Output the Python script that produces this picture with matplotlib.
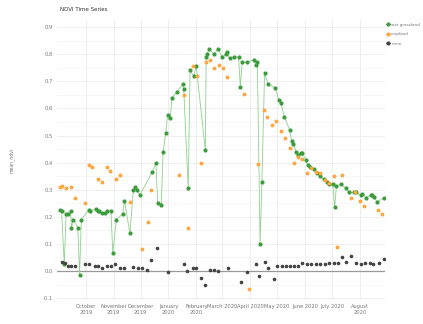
import numpy as np
import pandas as pd
import matplotlib
matplotlib.use('Agg')
import matplotlib.pyplot as plt
from matplotlib.lines import Line2D

# wet grassland (green, points joined by a line)
grass_dates = ['2019-09-02', '2019-09-04', '2019-09-07', '2019-09-09', '2019-09-11', '2019-09-14',
               '2019-09-15', '2019-09-17', '2019-09-22', '2019-09-24', '2019-09-26', '2019-10-04',
               '2019-10-06', '2019-10-12', '2019-10-14', '2019-10-16', '2019-10-19', '2019-10-22',
               '2019-10-24', '2019-10-29', '2019-10-31', '2019-11-04', '2019-11-11', '2019-11-13',
               '2019-11-19', '2019-11-23', '2019-11-25', '2019-11-27', '2019-11-30', '2019-12-14',
               '2019-12-18', '2019-12-20', '2019-12-24', '2019-12-26', '2019-12-29', '2019-12-31',
               '2020-01-03', '2020-01-05', '2020-01-10', '2020-01-17', '2020-01-18', '2020-01-23',
               '2020-01-25', '2020-01-29', '2020-02-01', '2020-02-11', '2020-02-12', '2020-02-13',
               '2020-02-15', '2020-02-21', '2020-02-25', '2020-03-01', '2020-03-05', '2020-03-06',
               '2020-03-09', '2020-03-14', '2020-03-19', '2020-03-21', '2020-03-23', '2020-03-28',
               '2020-04-05', '2020-04-07', '2020-04-09', '2020-04-12', '2020-04-14', '2020-04-17',
               '2020-04-21', '2020-04-29', '2020-05-03', '2020-05-05', '2020-05-09', '2020-05-15',
               '2020-05-17', '2020-05-19', '2020-05-22', '2020-05-24', '2020-05-27', '2020-05-29',
               '2020-06-02', '2020-06-04', '2020-06-07', '2020-06-11', '2020-06-14', '2020-06-18',
               '2020-06-22', '2020-06-25', '2020-06-28', '2020-07-02', '2020-07-04', '2020-07-06',
               '2020-07-11', '2020-07-17', '2020-07-20', '2020-07-26', '2020-07-28', '2020-08-02',
               '2020-08-04', '2020-08-08', '2020-08-13', '2020-08-15', '2020-08-17', '2020-08-20',
               '2020-08-28']
grass_ndvi = [0.225, 0.22, 0.025, 0.21, 0.21, 0.22,
              0.16, 0.19, 0.16, -0.015, 0.19, 0.225,
              0.22, 0.23, 0.22, 0.22, 0.215, 0.215,
              0.22, 0.22, 0.065, 0.19, 0.21, 0.26,
              0.14, 0.30, 0.31, 0.30, 0.28, 0.365,
              0.40, 0.25, 0.245, 0.44, 0.51, 0.575,
              0.565, 0.64, 0.66, 0.69, 0.67, 0.305,
              0.74, 0.72, 0.755, 0.445, 0.79, 0.80,
              0.82, 0.80, 0.82, 0.79, 0.80, 0.81,
              0.785, 0.79, 0.79, 0.68, 0.77, 0.77,
              0.78, 0.76, 0.77, 0.10, 0.33, 0.73,
              0.69, 0.675, 0.63, 0.62, 0.57, 0.52,
              0.48, 0.47, 0.44, 0.43, 0.435, 0.435,
              0.41, 0.39, 0.385, 0.375, 0.36, 0.35,
              0.34, 0.33, 0.32, 0.32, 0.235, 0.315,
              0.32, 0.305, 0.29, 0.29, 0.29, 0.28,
              0.285, 0.27, 0.28, 0.28, 0.275, 0.255,
              0.27]

# cropland (orange points)
crop_dates = ['2019-09-02', '2019-09-05', '2019-09-09', '2019-09-14', '2019-09-19', '2019-09-30',
              '2019-10-04', '2019-10-08', '2019-10-14', '2019-10-19', '2019-10-24', '2019-10-28',
              '2019-11-04', '2019-11-08', '2019-11-19', '2019-12-02', '2019-12-09', '2019-12-13',
              '2020-01-13', '2020-01-18', '2020-01-23', '2020-01-28', '2020-02-02', '2020-02-06',
              '2020-02-12', '2020-02-16', '2020-02-21', '2020-02-26', '2020-03-02', '2020-03-06',
              '2020-03-25', '2020-03-31', '2020-04-10', '2020-04-16', '2020-04-20', '2020-04-25',
              '2020-04-30', '2020-05-05', '2020-05-10', '2020-05-15', '2020-05-20', '2020-05-24',
              '2020-05-29', '2020-06-03', '2020-06-08', '2020-06-13', '2020-06-18', '2020-06-23',
              '2020-06-28', '2020-07-03', '2020-07-07', '2020-07-12', '2020-07-22', '2020-07-27',
              '2020-08-01', '2020-08-06', '2020-08-21', '2020-08-26']
crop_ndvi = [0.31, 0.315, 0.305, 0.31, 0.27, 0.25,
             0.39, 0.385, 0.34, 0.33, 0.385, 0.37,
             0.34, 0.355, 0.255, 0.08, 0.18, 0.30,
             0.355, 0.65, 0.16, 0.755, 0.72, 0.40,
             0.77, 0.78, 0.75, 0.76, 0.75, 0.715,
             0.655, -0.065, 0.395, 0.595, 0.57, 0.54,
             0.555, 0.515, 0.49, 0.455, 0.40, 0.42,
             0.415, 0.36, 0.38, 0.365, 0.36, 0.335,
             0.325, 0.35, 0.09, 0.355, 0.27, 0.29,
             0.26, 0.24, 0.225, 0.21]

# mine (dark points near zero)
mine_dates = ['2019-09-05', '2019-09-08', '2019-09-11', '2019-09-14', '2019-09-19', '2019-09-30',
              '2019-10-04', '2019-10-11', '2019-10-14', '2019-10-19', '2019-10-24', '2019-10-29',
              '2019-11-03', '2019-11-08', '2019-11-13', '2019-11-23', '2019-11-28', '2019-12-03',
              '2019-12-08', '2019-12-13', '2019-12-19', '2020-01-01', '2020-01-18', '2020-01-22',
              '2020-01-28', '2020-02-01', '2020-02-06', '2020-02-11', '2020-02-16', '2020-02-21',
              '2020-02-25', '2020-03-07', '2020-03-22', '2020-03-28', '2020-04-07', '2020-04-11',
              '2020-04-17', '2020-04-21', '2020-04-27', '2020-05-01', '2020-05-06', '2020-05-11',
              '2020-05-15', '2020-05-20', '2020-05-24', '2020-05-29', '2020-06-03', '2020-06-08',
              '2020-06-13', '2020-06-18', '2020-06-23', '2020-06-28', '2020-07-03', '2020-07-08',
              '2020-07-12', '2020-07-17', '2020-07-22', '2020-07-28', '2020-08-02', '2020-08-07',
              '2020-08-12', '2020-08-16', '2020-08-22', '2020-08-28']
mine_ndvi = [0.035, 0.03, 0.02, 0.02, 0.02, 0.025,
             0.025, 0.02, 0.02, 0.01, 0.02, 0.02,
             0.025, 0.01, 0.01, 0.015, 0.01, 0.01,
             0.005, 0.04, 0.085, -0.005, 0.025, 0.0,
             0.01, 0.01, -0.025, -0.05, 0.005, 0.005,
             0.0, 0.01, -0.04, -0.005, 0.025, -0.02,
             0.035, 0.01, -0.03, 0.02, 0.02, 0.02,
             0.02, 0.02, 0.02, 0.03, 0.025, 0.025,
             0.025, 0.025, 0.025, 0.03, 0.03, 0.03,
             0.05, 0.035, 0.055, 0.03, 0.025, 0.03,
             0.03, 0.025, 0.03, 0.045]

month_ticks = ['2019-10-01', '2019-11-01', '2019-12-01', '2020-01-01', '2020-02-01', '2020-03-01',
               '2020-04-01', '2020-05-01', '2020-06-01', '2020-07-01', '2020-08-01']
month_labels = ['October\n2019', 'November\n2019', 'December\n2019', 'January\n2020', 'February\n2020',
                'March 2020', 'April 2020', 'May 2020', 'June 2020', 'July 2020', 'August\n2020']

green = '#3c9b3c'
orange = '#ffa63f'
dark = '#444444'

fig = plt.figure(figsize=(4.23, 3.24), dpi=100)
ax = fig.add_axes([0.135, 0.074, 0.775, 0.864])

ax.plot(pd.to_datetime(grass_dates), grass_ndvi, color='#8fd08f', lw=0.6, zorder=2)
ax.plot(pd.to_datetime(grass_dates), grass_ndvi, ls='none', marker='o', ms=2.0,
        color=green, mec=green, zorder=3)
ax.plot(pd.to_datetime(crop_dates), crop_ndvi, ls='none', marker='o', ms=1.8,
        color=orange, mec=orange, zorder=3)
ax.plot(pd.to_datetime(mine_dates), mine_ndvi, ls='none', marker='o', ms=1.6,
        color=dark, mec=dark, zorder=3)

ax.set_xlim(pd.Timestamp('2019-08-30'), pd.Timestamp('2020-08-29'))
ax.set_ylim(-0.107, 0.926)
ax.set_yticks(np.arange(-0.1, 0.91, 0.1))
ax.set_yticklabels(['%.1f' % v for v in np.arange(-0.1, 0.91, 0.1)])
ax.set_yticks(np.arange(-0.05, 0.91, 0.1), minor=True)
ax.set_xticks(pd.to_datetime(month_ticks))
ax.set_xticklabels(month_labels)

ax.grid(True, which='major', color='#ebebeb', lw=0.6)
ax.grid(True, which='minor', axis='y', color='#f3f3f3', lw=0.5)
ax.axhline(0, color='#999999', lw=0.9, zorder=1)
ax.set_axisbelow(True)
for s in ax.spines.values():
    s.set_visible(False)
ax.tick_params(axis='both', which='both', length=0, labelsize=3.7, colors='#777777', pad=3)

ax.set_ylabel('mean_ndvi', fontsize=3.3, color='#777777', labelpad=20)
fig.text(0.142, 0.972, 'NDVI Time Series', fontsize=4.0, color='#333333', ha='left', va='center')

handles = [Line2D([], [], color=green, marker='o', ms=2, lw=0.6),
           Line2D([], [], color=orange, marker='o', ms=2, lw=0.6),
           Line2D([], [], color=dark, marker='o', ms=2, lw=0.6)]
leg = fig.legend(handles, ['wet grassland', 'cropland', 'mine'], loc='upper left',
                 bbox_to_anchor=(0.912, 0.93), frameon=False, fontsize=3.0,
                 handlelength=1.0, labelspacing=1.3, handletextpad=0.3, borderpad=0,
                 borderaxespad=0)
for t in leg.get_texts():
    t.set_color('#777777')

fig.savefig('out.png', dpi=100)
